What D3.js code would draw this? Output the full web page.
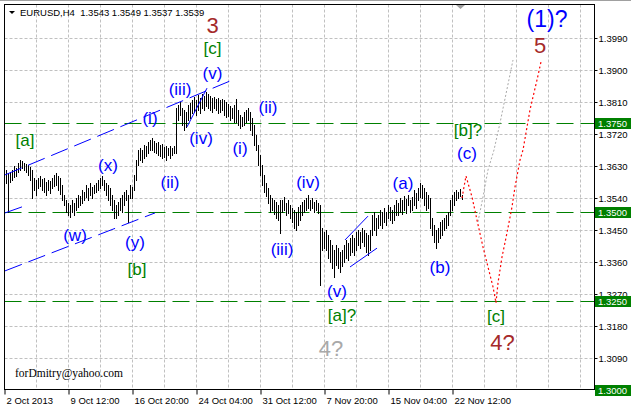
<!DOCTYPE html>
<html><head><meta charset="utf-8">
<script src="https://cdn.jsdelivr.net/npm/d3@7"></script>
<style>
html,body{margin:0;padding:0;background:#fff;}
svg{display:block;font-family:"Liberation Sans",Arial,sans-serif;}
</style></head><body>
<svg id="c" width="631" height="408"></svg>
<script>
// ---- data ----
const symbolTitle = "EURUSD,H4  1.3543 1.3549 1.3537 1.3539";
const highs = [
1.3613,1.3619,1.3610,1.3613,1.3619,1.3630,1.3624,1.3638,1.3647,1.3644,
1.3638,1.3636,1.3633,1.3627,1.3619,1.3596,1.3591,1.3596,1.3602,1.3593,
1.3596,1.3585,1.3591,1.3588,1.3596,1.3605,1.3610,1.3602,1.3596,1.3577,
1.3548,1.3534,1.3526,1.3520,1.3534,1.3526,1.3540,1.3548,1.3546,1.3563,
1.3557,1.3577,1.3568,1.3582,1.3571,1.3577,1.3582,1.3591,1.3596,1.3602,
1.3591,1.3582,1.3577,1.3568,1.3548,1.3534,1.3520,1.3529,1.3540,1.3548,
1.3557,1.3563,1.3548,1.3577,1.3571,1.3605,1.3647,1.3675,1.3681,1.3675,
1.3689,1.3686,1.3698,1.3703,1.3709,1.3700,1.3695,1.3698,1.3689,1.3692,
1.3683,1.3686,1.3681,1.3686,1.3681,1.3686,1.3793,1.3802,1.3810,1.3793,
1.3788,1.3782,1.3802,1.3807,1.3816,1.3824,1.3816,1.3830,1.3821,1.3833,
1.3827,1.3838,1.3833,1.3827,1.3821,1.3824,1.3818,1.3821,1.3816,1.3818,
1.3816,1.3810,1.3804,1.3799,1.3793,1.3802,1.3818,1.3788,1.3773,1.3768,
1.3782,1.3788,1.3793,1.3782,1.3765,1.3745,1.3717,1.3689,1.3661,1.3633,
1.3605,1.3582,1.3568,1.3548,1.3540,1.3534,1.3529,1.3520,1.3534,1.3534,
1.3543,1.3526,1.3534,1.3520,1.3512,1.3506,1.3501,1.3515,1.3520,1.3529,
1.3534,1.3540,1.3548,1.3534,1.3540,1.3529,1.3534,1.3526,1.3520,1.3456,
1.3444,1.3450,1.3436,1.3422,1.3408,1.3394,1.3408,1.3399,1.3388,1.3394,
1.3408,1.3422,1.3413,1.3428,1.3436,1.3428,1.3444,1.3450,1.3444,1.3456,
1.3450,1.3442,1.3436,1.3450,1.3492,1.3501,1.3484,1.3492,1.3506,1.3501,
1.3512,1.3501,1.3520,1.3515,1.3506,1.3520,1.3534,1.3526,1.3540,1.3534,
1.3546,1.3537,1.3548,1.3534,1.3543,1.3563,1.3554,1.3568,1.3582,1.3577,
1.3568,1.3557,1.3548,1.3540,1.3484,1.3464,1.3450,1.3456,1.3473,1.3478,
1.3484,1.3492,1.3501,1.3534,1.3548,1.3557,1.3563,1.3557,1.3565,1.3549];
const lows = [
1.3577,1.3582,1.3501,1.3585,1.3591,1.3599,1.3602,1.3613,1.3619,1.3624,
1.3619,1.3613,1.3605,1.3591,1.3540,1.3563,1.3548,1.3568,1.3574,1.3563,
1.3557,1.3548,1.3563,1.3554,1.3568,1.3574,1.3577,1.3563,1.3551,1.3534,
1.3520,1.3501,1.3492,1.3487,1.3501,1.3492,1.3506,1.3515,1.3520,1.3526,
1.3534,1.3543,1.3534,1.3548,1.3540,1.3554,1.3557,1.3563,1.3568,1.3577,
1.3563,1.3548,1.3534,1.3520,1.3506,1.3484,1.3484,1.3492,1.3506,1.3501,
1.3520,1.3534,1.3473,1.3540,1.3540,1.3563,1.3591,1.3633,1.3647,1.3641,
1.3653,1.3658,1.3667,1.3675,1.3675,1.3669,1.3667,1.3661,1.3658,1.3653,
1.3655,1.3647,1.3661,1.3653,1.3661,1.3667,1.3667,1.3759,1.3773,1.3745,
1.3731,1.3740,1.3759,1.3765,1.3779,1.3782,1.3773,1.3788,1.3779,1.3793,
1.3788,1.3799,1.3793,1.3788,1.3782,1.3793,1.3788,1.3779,1.3782,1.3788,
1.3773,1.3768,1.3771,1.3759,1.3765,1.3754,1.3754,1.3745,1.3737,1.3742,
1.3745,1.3754,1.3759,1.3731,1.3717,1.3689,1.3675,1.3633,1.3605,1.3577,
1.3557,1.3546,1.3526,1.3501,1.3506,1.3495,1.3484,1.3478,1.3442,1.3501,
1.3506,1.3492,1.3498,1.3484,1.3473,1.3456,1.3450,1.3464,1.3478,1.3492,
1.3501,1.3506,1.3512,1.3506,1.3512,1.3501,1.3506,1.3498,1.3295,1.3394,
1.3399,1.3394,1.3371,1.3360,1.3343,1.3318,1.3352,1.3343,1.3332,1.3349,
1.3360,1.3371,1.3366,1.3380,1.3388,1.3380,1.3394,1.3408,1.3399,1.3416,
1.3405,1.3388,1.3380,1.3394,1.3436,1.3450,1.3436,1.3456,1.3464,1.3456,
1.3473,1.3464,1.3484,1.3478,1.3470,1.3478,1.3492,1.3492,1.3501,1.3495,
1.3506,1.3498,1.3520,1.3501,1.3506,1.3520,1.3512,1.3534,1.3543,1.3540,
1.3520,1.3506,1.3512,1.3456,1.3436,1.3416,1.3399,1.3416,1.3428,1.3436,
1.3450,1.3456,1.3464,1.3492,1.3506,1.3520,1.3534,1.3540,1.3546,1.3537];
const timeLabels = ["2 Oct 2013","9 Oct 12:00","16 Oct 20:00","24 Oct 04:00","31 Oct 12:00","7 Nov 20:00","15 Nov 04:00","22 Nov 12:00"];
const timeLabelBars = [0,32,64,96,128,160,192,224];
const gridBars = [16,32,48,64,80,96,112,128,144,160,176,192,208,224,240,256,272,288];
const priceTicks = [1.3090,1.3180,1.3270,1.3360,1.3450,1.3540,1.3630,1.3720,1.3810,1.3900,1.3990];
const levelLines = [1.3750,1.3500,1.3250];
const levelBoxes = [1.3750,1.3500,1.3250,1.3000];
// trend / channel lines: [bar, price] pairs
const dashedChannels = [
  [[0.25,1.3605],[112.75,1.3869]],
  [[0.25,1.3498],[8.75,1.3515]],
  [[0.25,1.3335],[75.25,1.3498]]
];
const solidChannels = [
  [[91.25,1.3740],[101.25,1.3849]],
  [[170.25,1.3422],[181.75,1.3489]],
  [[172.75,1.3346],[186.25,1.3399]]
];
const redForecast = [[228.75,1.3540],[230.75,1.3602],[231.75,1.3582],[233.75,1.3543],[236.25,1.3478],[239.25,1.3402],[241.75,1.3346],[244.25,1.3290],[245.75,1.3245],[246.75,1.3301],[248.75,1.3374],[251.25,1.3442],[253.75,1.3515],[255.25,1.3571],[257.75,1.3647],[259.25,1.3675],[262.75,1.3788],[266.25,1.3872],[268.25,1.3923]];
const grayForecast = [[236.75,1.3473],[239.25,1.3543],[241.75,1.3619],[244.75,1.3675],[247.75,1.3751],[254.25,1.3928]];
const waveLabels = [
  {t:"3",bar:104,p:1.4004,k:"brown"},
  {t:"[c]",bar:104,p:1.3944,k:"green"},
  {t:"(v)",bar:104,p:1.3876,k:"blue"},
  {t:"(iii)",bar:87.75,p:1.3831,k:"blue"},
  {t:"(i)",bar:72.75,p:1.3747,k:"blue"},
  {t:"(iv)",bar:98.25,p:1.3693,k:"blue"},
  {t:"(ii)",bar:131.75,p:1.3778,k:"blue"},
  {t:"(i)",bar:117.75,p:1.3665,k:"blue"},
  {t:"(x)",bar:51.75,p:1.3615,k:"blue"},
  {t:"(ii)",bar:82.75,p:1.3567,k:"blue"},
  {t:"[a]",bar:10.25,p:1.3685,k:"green"},
  {t:"(iv)",bar:151.75,p:1.3567,k:"blue"},
  {t:"(w)",bar:35.25,p:1.3418,k:"blue"},
  {t:"(y)",bar:65.25,p:1.3399,k:"blue"},
  {t:"[b]",bar:66.25,p:1.3323,k:"green"},
  {t:"(iii)",bar:138.75,p:1.3380,k:"blue"},
  {t:"(v)",bar:166.25,p:1.3262,k:"blue"},
  {t:"[a]?",bar:168.75,p:1.3194,k:"green"},
  {t:"4?",bar:163.25,p:1.3096,k:"gray"},
  {t:"(a)",bar:199.25,p:1.3565,k:"blue"},
  {t:"(b)",bar:217.75,p:1.3329,k:"blue"},
  {t:"(c)",bar:231.25,p:1.3650,k:"blue"},
  {t:"[b]?",bar:231.75,p:1.3714,k:"green"},
  {t:"[c]",bar:245.75,p:1.3191,k:"green"},
  {t:"4?",bar:249,p:1.3113,k:"brown"},
  {t:"(1)?",bar:271.25,p:1.4020,k:"bigblue"},
  {t:"5",bar:267.75,p:1.3948,k:"brown"}
];
const watermark = "forDmitry@yahoo.com";

// ---- drawing ----
const svg = d3.select("#c");
const L = 4.5, R = 594.5, T = 4.5, B = 390.5;
const x = d3.scaleLinear().domain([0, 295]).range([4.5, 594.5]);
const y = d3.scaleLinear().domain([1.3, 1.399]).range([390, 38]);
const cy = p => Math.round(y(p)) + 0.5;

svg.append("rect").attr("width",631).attr("height",408).attr("fill","#fff");
svg.append("line").attr("x1",0).attr("x2",631).attr("y1",0.5).attr("y2",0.5).attr("stroke","#a0a0a0");

const defs = svg.append("defs");
defs.append("clipPath").attr("id","plot").append("rect").attr("x",5).attr("y",5).attr("width",589).attr("height",385);

const plot = svg.append("g").attr("clip-path","url(#plot)");

// grid
plot.selectAll(".hg").data(priceTicks).join("line")
  .attr("x1",L).attr("x2",R).attr("y1",d=>cy(d)).attr("y2",d=>cy(d))
  .attr("stroke","#c0c0c0").attr("stroke-dasharray","3,2");
plot.selectAll(".vg").data(gridBars).join("line")
  .attr("x1",d=>x(d)).attr("x2",d=>x(d)).attr("y1",T).attr("y2",B)
  .attr("stroke","#c0c0c0").attr("stroke-dasharray","3,2");

// level lines
plot.selectAll(".lv").data(levelLines).join("line")
  .attr("x1",L).attr("x2",R).attr("y1",d=>cy(d)).attr("y2",d=>cy(d))
  .attr("stroke","#008000").attr("stroke-dasharray","17,7");

// bars
plot.append("g").attr("shape-rendering","crispEdges").selectAll("line").data(highs).join("line")
  .attr("x1",(d,i)=>x(i)).attr("x2",(d,i)=>x(i))
  .attr("y1",d=>Math.round(y(d))).attr("y2",(d,i)=>Math.round(y(lows[i]))+1)
  .attr("stroke","#000").attr("stroke-width",1);

// channels
const ln = d3.line().x(d=>x(d[0])).y(d=>y(d[1]));
plot.selectAll(".dc").data(dashedChannels).join("path").attr("d",ln)
  .attr("fill","none").attr("stroke","#0000ff").attr("stroke-dasharray","18,7");
plot.selectAll(".sc").data(solidChannels).join("path").attr("d",ln)
  .attr("fill","none").attr("stroke","#0000ff");

// forecasts
plot.append("path").datum(grayForecast).attr("d",ln).attr("fill","none")
  .attr("stroke","#a9a9a9").attr("stroke-dasharray","2,2");
plot.append("path").datum(redForecast).attr("d",ln).attr("fill","none")
  .attr("stroke","#ff0000").attr("stroke-width",1.2).attr("stroke-dasharray","2,2.5");

// wave labels
const styles = {
  blue:{c:"#0000ff",s:17}, green:{c:"#008000",s:17}, brown:{c:"#a52a2a",s:22},
  gray:{c:"#a9a9a9",s:22}, bigblue:{c:"#0000ff",s:23}
};
svg.append("g").selectAll("text").data(waveLabels).join("text")
  .attr("x",d=>x(d.bar)).attr("y",d=>y(d.p))
  .attr("text-anchor","middle")
  .attr("font-size",d=>styles[d.k].s+"px")
  .attr("fill",d=>styles[d.k].c)
  .text(d=>d.t);

// frame
svg.append("rect").attr("x",L).attr("y",T).attr("width",R-L).attr("height",B-T-1)
  .attr("fill","none").attr("stroke","#000");

// right axis
const ya = svg.append("g").attr("transform",`translate(${R},0)`)
  .call(d3.axisRight(y).tickValues(priceTicks).tickFormat(d3.format(".4f")).tickSize(3).tickPadding(1));
ya.select(".domain").remove();
ya.selectAll("text").attr("font-size","9.5px").attr("font-family","Liberation Sans, Arial, sans-serif").attr("fill","#000");
ya.selectAll("line").attr("stroke","#000");

// bottom axis
const xa = svg.append("g").attr("transform",`translate(0,${B-1})`)
  .call(d3.axisBottom(x).tickValues(timeLabelBars).tickFormat((d,i)=>timeLabels[i]).tickSize(5).tickPadding(3));
xa.select(".domain").remove();
xa.selectAll("text").attr("text-anchor","start").attr("dx","1.5")
  .attr("font-size","9.5px").attr("font-family","Liberation Sans, Arial, sans-serif").attr("fill","#000");
xa.selectAll("line").attr("stroke","#000");

// level boxes
const lb = svg.append("g").selectAll("g").data(levelBoxes).join("g");
lb.append("rect").attr("x",595).attr("width",36).attr("y",d=>Math.round(y(d))-5).attr("height",11).attr("fill","#008000");
lb.append("text").attr("x",598).attr("y",d=>Math.round(y(d))+4).attr("fill","#fff")
  .attr("font-size","9.5px").text(d3.format(".4f"));

// title
svg.append("path").attr("d","M9,11 L15,11 L12,14 Z").attr("fill","#000");
svg.append("text").attr("x",20).attr("y",16).attr("font-size","9.5px").attr("fill","#000")
  .style("white-space","pre").text(symbolTitle);
// chart shift marker
svg.append("path").attr("d","M456,5 L465,5 L460.5,9 Z").attr("fill","#a0a0a0");

// watermark
svg.append("text").attr("x",15).attr("y",377).attr("font-family","Liberation Serif, Times New Roman, serif")
  .attr("font-size","11.5px").attr("fill","#000").text(watermark);
</script>
</body></html>
